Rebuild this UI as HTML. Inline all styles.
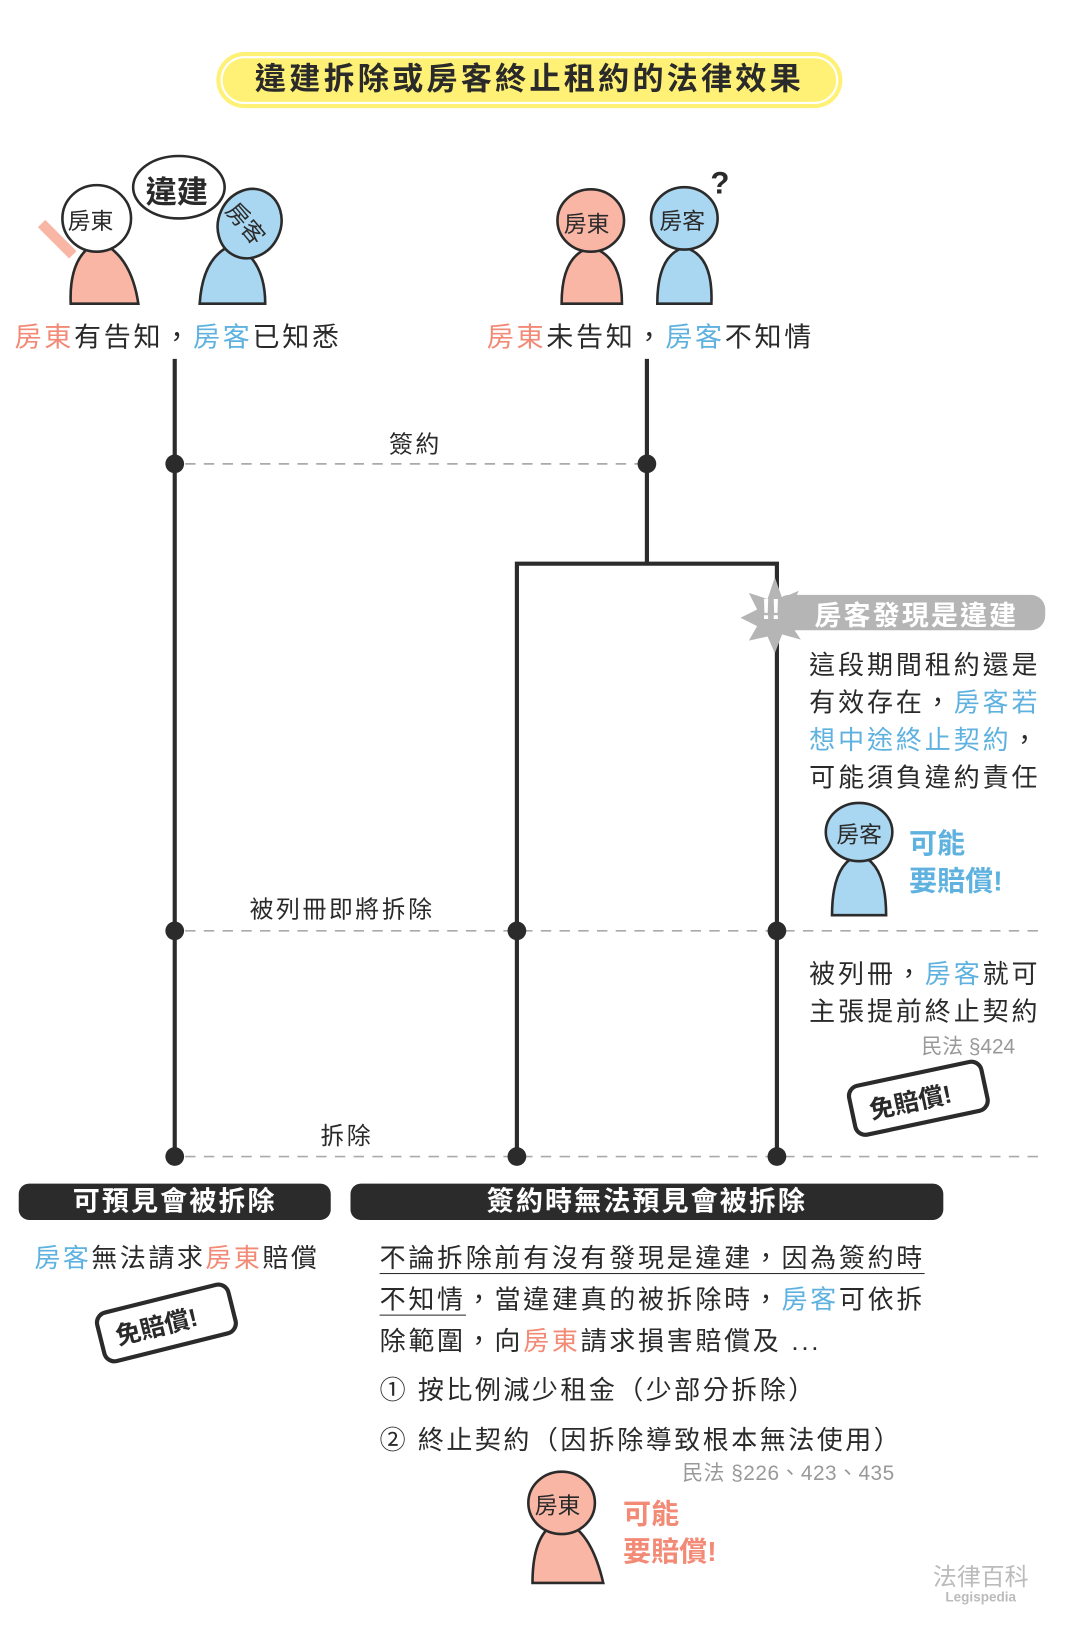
<!DOCTYPE html>
<html><head><meta charset="utf-8"><style>
html,body{margin:0;padding:0;background:#fff;}
body{width:1065px;height:1638px;overflow:hidden;position:relative;}
#w{position:absolute;left:0;top:0;width:1024px;height:1575px;transform:scale(1.04004);transform-origin:0 0;font-family:"Liberation Sans","Noto Sans CJK TC",sans-serif;color:#2a2a2a;}
.a{position:absolute;white-space:nowrap;}
.p{color:#f28a76}.b{color:#5fb2df}
.t{font-size:25px;letter-spacing:2.4px;}
.g{color:#999;font-size:20px;}
.ban{position:absolute;background:#2b2b2b;color:#fff;font-weight:bold;font-size:26px;text-align:center;border-radius:10px;height:35px;line-height:35px;letter-spacing:2px;}
</style></head><body><div id="w">
<svg width="1024" height="1575" style="position:absolute;left:0;top:0">
<rect x="208" y="50" width="602" height="54" rx="27" fill="#fff176"/>
<rect x="213" y="55" width="592" height="44" rx="22" fill="none" stroke="#fff" stroke-width="2"/>
<g stroke="#2b2b2b" stroke-width="4" fill="none">
<line x1="168" y1="345" x2="168" y2="1112"/>
<line x1="622" y1="345" x2="622" y2="542"/>
<polyline points="497,1112 497,542 747,542 747,1112"/>
</g>
<g stroke="#aaa" stroke-width="1.6" stroke-dasharray="10,8">
<line x1="178" y1="446" x2="615" y2="446"/>
<line x1="178" y1="895" x2="1005" y2="895"/>
<line x1="178" y1="1112" x2="1005" y2="1112"/>
</g>
<g fill="#2b2b2b">
<circle cx="168" cy="446" r="9"/><circle cx="622" cy="446" r="9"/>
<circle cx="168" cy="895" r="9"/><circle cx="497" cy="895" r="9"/><circle cx="747" cy="895" r="9"/>
<circle cx="168" cy="1112" r="9"/><circle cx="497" cy="1112" r="9"/><circle cx="747" cy="1112" r="9"/>
</g>
<rect x="745" y="572" width="260" height="34" rx="14" fill="#b5b5b5"/>
<polygon points="745,555 752,575 768,568 760,585 778,592 760,600 770,615 752,610 745,628 738,612 720,616 728,602 712,594 728,586 720,570 738,576" fill="#b5b5b5"/>
<g transform="translate(160,1272) rotate(-14)"><rect x="-65" y="-24" width="130" height="48" rx="10" fill="#fff" stroke="#2b2b2b" stroke-width="4"/></g>
<g transform="translate(883,1056) rotate(-12)"><rect x="-65" y="-24" width="130" height="48" rx="10" fill="#fff" stroke="#2b2b2b" stroke-width="4"/></g>
<g stroke="#2b2b2b" stroke-width="2.5">
 <path d="M68,292 Q66,245 95,232 Q126,245 133,292 Z" fill="#f9b6a5"/>
 <path d="M70,245 L40,215" stroke-width="10" stroke="#f9b6a5"/>
 <ellipse cx="93" cy="210" rx="33" ry="32" fill="#fff"/>
 <path d="M192,292 Q195,245 225,235 Q255,250 255,292 Z" fill="#a9d6f0"/>
 <ellipse cx="240" cy="215" rx="30" ry="34" fill="#a9d6f0" transform="rotate(25 240 215)"/>
 <ellipse cx="172" cy="180" rx="44" ry="30" fill="#fff"/>
 <path d="M540,292 Q540,245 568,238 Q598,245 598,292 Z" fill="#f9b6a5"/>
 <ellipse cx="568" cy="212" rx="32" ry="30" fill="#f9b6a5"/>
 <path d="M632,292 Q632,245 658,238 Q686,245 684,292 Z" fill="#a9d6f0"/>
 <ellipse cx="658" cy="210" rx="32" ry="30" fill="#a9d6f0"/>
 <path d="M800,880 Q800,830 826,822 Q852,830 852,880 Z" fill="#a9d6f0"/>
 <ellipse cx="826" cy="800" rx="32" ry="28" fill="#a9d6f0"/>
 <path d="M512,1522 Q512,1470 540,1462 Q568,1470 580,1522 Z" fill="#f9b6a5"/>
 <ellipse cx="540" cy="1445" rx="32" ry="30" fill="#f9b6a5"/>
</g>
</svg>
<div class="a" style="left:208px;top:56px;width:602px;text-align:center;font-size:30px;font-weight:bold;letter-spacing:3px;line-height:42px">違建拆除或房客終止租約的法律效果</div>
<div class="a" style="left:140px;top:160px;font-size:30px;font-weight:bold">違建</div>
<div class="a" style="left:65px;top:195px;font-size:22px">房東</div>
<div class="a" style="left:215px;top:198px;font-size:22px;transform:rotate(50deg)">房客</div>
<div class="a" style="left:542px;top:198px;font-size:22px">房東</div>
<div class="a" style="left:634px;top:195px;font-size:22px">房客</div>
<div class="a" style="left:683px;top:160px;font-size:30px;font-weight:bold">?</div>
<div class="a" style="left:804px;top:785px;font-size:22px">房客</div>
<div class="a" style="left:514px;top:1430px;font-size:22px">房東</div>

<div class="a t" style="left:14px;top:304px;font-size:26px;letter-spacing:2.6px"><span class="p">房東</span>有告知，<span class="b">房客</span>已知悉</div>
<div class="a t" style="left:468px;top:304px;font-size:26px;letter-spacing:2.6px"><span class="p">房東</span>未告知，<span class="b">房客</span>不知情</div>
<div class="a t" style="left:374px;top:408px;font-size:23px">簽約</div>
<div class="a t" style="left:240px;top:855px;font-size:23px">被列冊即將拆除</div>
<div class="a t" style="left:308px;top:1073px;font-size:23px">拆除</div>

<div class="a" style="left:732px;top:570px;font-size:28px;font-weight:bold;color:#fff">!!</div>
<div class="a" style="left:783px;top:572px;font-size:26px;font-weight:bold;color:#fff;letter-spacing:2px">房客發現是違建</div>
<div class="a t" style="left:778px;top:622px;line-height:36px;letter-spacing:2.8px">這段期間租約還是<br>有效存在，<span class="b">房客若</span><br><span class="b">想中途終止契約</span>，<br>可能須負違約責任</div>
<div class="a b" style="left:874px;top:793px;font-size:27px;font-weight:bold;line-height:36px">可能<br>要賠償!</div>
<div class="a t" style="left:778px;top:919px;line-height:36px;letter-spacing:2.8px">被列冊，<span class="b">房客</span>就可<br>主張提前終止契約</div>
<div class="a g" style="left:886px;top:990px">民法 §424</div>
<div class="a" style="left:835px;top:1040px;font-size:24px;font-weight:bold;transform:rotate(-12deg)">免賠償!</div>

<div class="ban" style="left:18px;top:1138px;width:300px">可預見會被拆除</div>
<div class="ban" style="left:337px;top:1138px;width:570px">簽約時無法預見會被拆除</div>
<div class="a t" style="left:33px;top:1190px"><span class="b">房客</span>無法請求<span class="p">房東</span>賠償</div>
<div class="a" style="left:110px;top:1256px;font-size:24px;font-weight:bold;transform:rotate(-14deg)">免賠償!</div>

<div class="a t" style="left:365px;top:1190px;line-height:40px;letter-spacing:2.6px"><span style="border-bottom:1.5px solid #2b2b2b">不論拆除前有沒有發現是違建，因為簽約時</span><br><span style="border-bottom:1.5px solid #2b2b2b">不知情</span>，當違建真的被拆除時，<span class="b">房客</span>可依拆<br>除範圍，向<span class="p">房東</span>請求損害賠償及 ...</div>
<div class="a t" style="left:365px;top:1317px">① 按比例減少租金（少部分拆除）</div>
<div class="a t" style="left:365px;top:1365px">② 終止契約（因拆除導致根本無法使用）</div>
<div class="a g" style="left:656px;top:1400px;letter-spacing:0.5px">民法 §226、423、435</div>
<div class="a p" style="left:599px;top:1438px;font-size:27px;font-weight:bold;line-height:36px">可能<br>要賠償!</div>
<div class="a" style="left:897px;top:1497px;font-size:23px;color:#bbb">法律百科</div>
<div class="a" style="left:909px;top:1528px;font-size:13px;color:#bbb;font-weight:bold">Legispedia</div>
</div></body></html>
